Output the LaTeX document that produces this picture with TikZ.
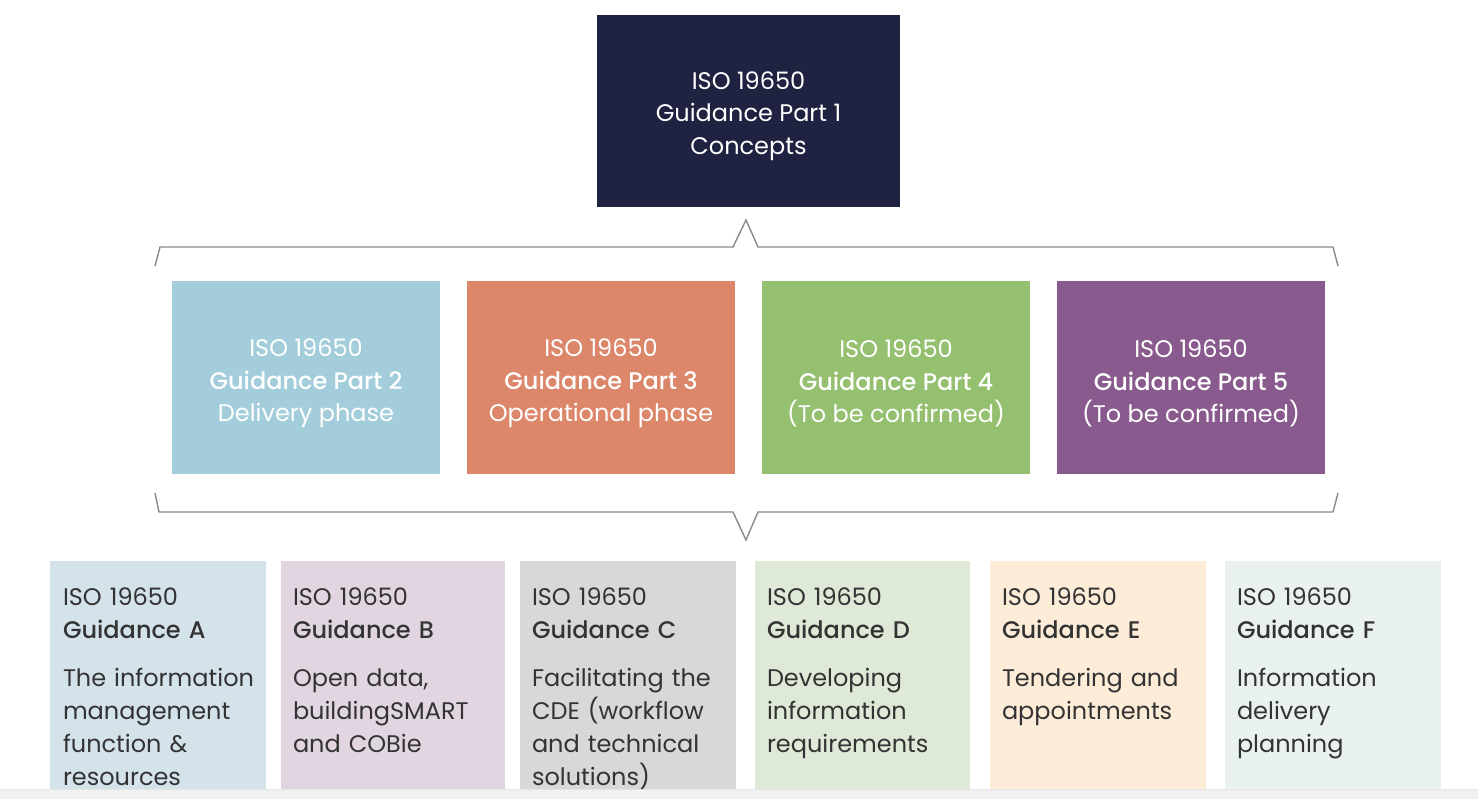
\documentclass[tikz,border=0pt]{standalone}
\usepackage{fontspec}
\setmainfont{Poppins}[BoldFont={Poppins Medium}]
\usetikzlibrary{positioning}

\definecolor{conceptnavy}{HTML}{1F2240}
\definecolor{deliveryblue}{HTML}{A3CDDB}
\definecolor{operorange}{HTML}{DC866A}
\definecolor{partgreen}{HTML}{94C06F}
\definecolor{partpurple}{HTML}{895A8D}
\definecolor{guideA}{HTML}{D4E2EA}
\definecolor{guideB}{HTML}{E2D5E2}
\definecolor{guideC}{HTML}{D8D8D8}
\definecolor{guideD}{HTML}{DEE9D7}
\definecolor{guideE}{HTML}{FCECD8}
\definecolor{guideF}{HTML}{E9F2ED}
\definecolor{inkgrey}{HTML}{333333}
\definecolor{bracegrey}{HTML}{8A8A8A}

\newcommand{\isoline}{ISO 19650}

\begin{document}
\begin{tikzpicture}[
		x=1pt, y=-1pt,
		node distance=27pt,
		every node/.style={inner sep=0pt, outer sep=0pt},
		topbox/.style={fill=conceptnavy, minimum width=303pt, minimum height=192pt},
		partbox/.style={minimum width=268pt, minimum height=193pt},
		boxtext/.style={text=white, align=center, font=\fontsize{24}{32.5}\selectfont},
		guidebox/.style={anchor=north west, minimum height=238pt},
		guidetext/.style={anchor=north west, text width=200pt, align=left,
			text=inkgrey, font=\fontsize{24}{33}\selectfont},
		brace/.style={draw=bracegrey, line width=1.4pt, line join=miter}]

	\useasboundingbox (0,0) rectangle (1478,799);
	\fill[white] (0,0) rectangle (1478,799);

	% top concept box
	\node[topbox] (part1) at (748.5,111) {};
	\node[boxtext] (t1) at ([yshift=-5pt]part1.center) {\isoline\\Guidance Part 1\\Concepts};

	% the four parts
	\node[partbox, fill=deliveryblue] (part2) at (306,377.5) {};
	\node[partbox, fill=operorange, right=of part2] (part3) {};
	\node[partbox, fill=partgreen, right=of part3] (part4) {};
	\node[partbox, fill=partpurple, right=of part4] (part5) {};
	\node[boxtext] (t2) at ([yshift=-6pt]part2.center) {\isoline\\\textbf{Guidance Part 2}\\Delivery phase};
	\node[boxtext] (t3) at ([yshift=-6pt]part3.center) {\isoline\\\textbf{Guidance Part 3}\\Operational phase};
	\node[boxtext] (t4) at ([yshift=-6pt]part4.center) {\isoline\\\textbf{Guidance Part 4}\\(To be confirmed)};
	\node[boxtext] (t5) at ([yshift=-6pt]part5.center) {\isoline\\\textbf{Guidance Part 5}\\(To be confirmed)};

	% braces
	\coordinate (upL) at (155,266);
	\coordinate (upR) at (1338,266);
	\coordinate (upTip) at (746,220);
	\draw[brace] (upL) -- (160,247) -- (733,247) -- (upTip) -- (758,247) -- (1333,247) -- (upR);
	\coordinate (loL) at (155,493);
	\coordinate (loR) at (1338,493);
	\coordinate (loTip) at (746,540);
	\draw[brace] (loL) -- (159,512) -- (733,512) -- (loTip) -- (758,512) -- (1333,512) -- (loR);

	% guidance boxes
	\node[guidebox, fill=guideA, minimum width=216pt] (gA) at (50,561) {};
	\node[guidebox, fill=guideB, minimum width=224pt] (gB) at (281,561) {};
	\node[guidebox, fill=guideC, minimum width=216pt] (gC) at (520,561) {};
	\node[guidebox, fill=guideD, minimum width=215pt] (gD) at (755,561) {};
	\node[guidebox, fill=guideE, minimum width=216pt] (gE) at (990,561) {};
	\node[guidebox, fill=guideF, minimum width=216pt] (gF) at (1225,561) {};

	\node[guidetext] (tA) at ([xshift=13pt, yshift=-27pt]gA.north west)
		{\isoline\\\textbf{Guidance A}\\[15pt]The information\\management\\function \&\\resources};
	\node[guidetext] (tB) at ([xshift=12pt, yshift=-27pt]gB.north west)
		{\isoline\\\textbf{Guidance B}\\[15pt]Open data,\\buildingSMART\\and COBie};
	\node[guidetext] (tC) at ([xshift=12pt, yshift=-27pt]gC.north west)
		{\isoline\\\textbf{Guidance C}\\[15pt]Facilitating the\\CDE (workflow\\and technical\\solutions)};
	\node[guidetext] (tD) at ([xshift=12pt, yshift=-27pt]gD.north west)
		{\isoline\\\textbf{Guidance D}\\[15pt]Developing\\information\\requirements};
	\node[guidetext] (tE) at ([xshift=12pt, yshift=-27pt]gE.north west)
		{\isoline\\\textbf{Guidance E}\\[15pt]Tendering and\\appointments};
	\node[guidetext] (tF) at ([xshift=12pt, yshift=-27pt]gF.north west)
		{\isoline\\\textbf{Guidance F}\\[15pt]Information\\delivery\\planning};

	% bottom strip
	\fill[black!6] (0,789) rectangle (1478,799);
	\draw[black!10, line width=0.8pt] (0,789) -- (1478,789);
\end{tikzpicture}
\end{document}
